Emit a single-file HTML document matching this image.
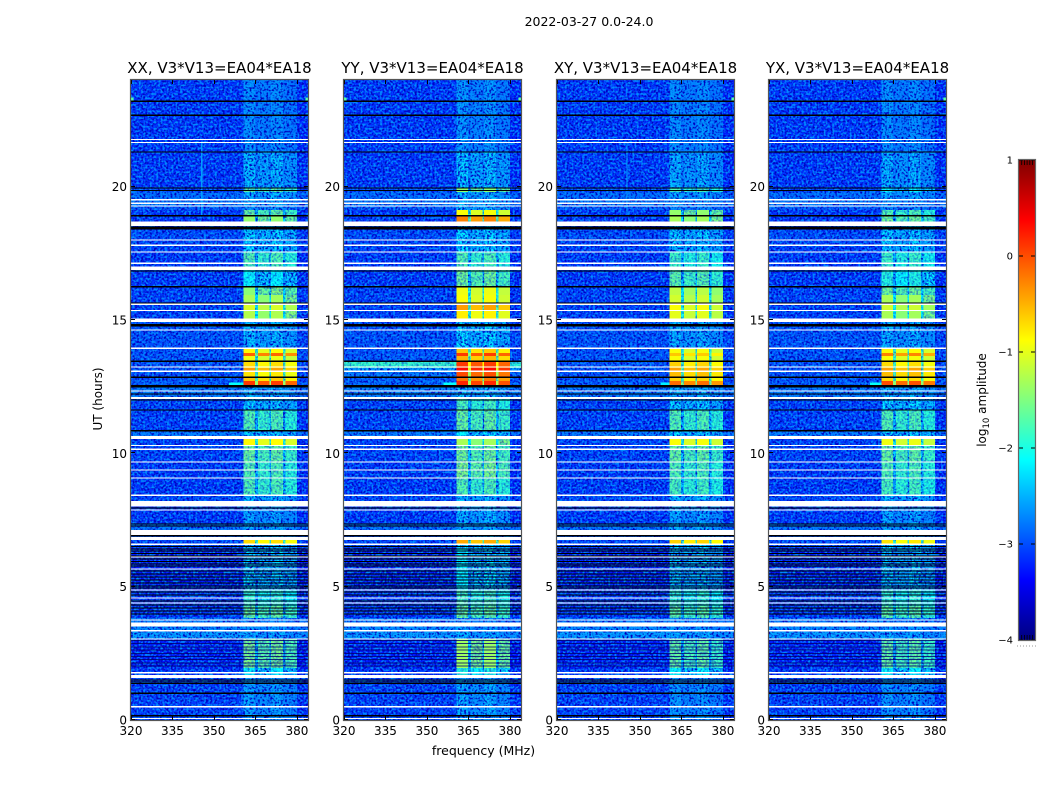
<!DOCTYPE html>
<html lang="en">
<head>
<meta charset="utf-8">
<title>2022-03-27 dynamic spectra</title>
<style>
html,body{margin:0;padding:0;background:#fff;overflow:hidden}
svg{display:block}
text{font-family:"DejaVu Sans","Liberation Sans",sans-serif;fill:#000}
.cell{shape-rendering:crispEdges}
</style>
</head>
<body>
<svg id="figure" xmlns="http://www.w3.org/2000/svg" width="1050" height="800" viewBox="0 0 1050 800">
<defs>
<filter id="grain" filterUnits="objectBoundingBox" x="0" y="0" width="1" height="1" color-interpolation-filters="sRGB">
<feTurbulence type="fractalNoise" baseFrequency="0.48" numOctaves="1" seed="3" result="n1"/>
<feColorMatrix in="n1" type="matrix" values="0 0 0 0 0  0 0 0 0 0  0 0 0 0 0.75  4.5 0 0 0 -2.1" result="dark"/>
<feTurbulence type="fractalNoise" baseFrequency="0.46" numOctaves="1" seed="11" result="n2"/>
<feColorMatrix in="n2" type="matrix" values="0 0 0 0 0  0 0 0 0 0.55  0 0 0 0 1  4 0 0 0 -1.85" result="light"/>
<feMerge><feMergeNode in="dark"/><feMergeNode in="light"/></feMerge>
</filter>
<linearGradient id="jet-gradient" x1="0" y1="1" x2="0" y2="0"></linearGradient>
</defs>
<text x="589" y="26" text-anchor="middle" font-size="12.5">2022-03-27 0.0-24.0</text>
<text x="483.5" y="755" text-anchor="middle" font-size="12.5">frequency (MHz)</text>
<text x="0" y="0" transform="translate(102,399) rotate(-90)" text-anchor="middle" font-size="12">UT (hours)</text>
<text x="0" y="0" transform="translate(986,400) rotate(-90)" text-anchor="middle" font-size="12">log<tspan font-size="8.5" dy="3">10</tspan><tspan dy="-3"> amplitude</tspan></text>
</svg>
<script>
// ---- Chart data ----
const panelTitles = ['XX, V3*V13=EA04*EA18', 'YY, V3*V13=EA04*EA18', 'XY, V3*V13=EA04*EA18', 'YX, V3*V13=EA04*EA18'];
const freqTicks = [320, 335, 350, 365, 380];
const hourTicks = [0, 5, 10, 15, 20];
const colorTicks = [1, 0, -1, -2, -3, -4];

// time-segment boundaries in UT hours, top to bottom
const segmentEdges = [24, 21.3, 19.95, 19.8, 19.54, 19.28, 19.13, 18.9, 18.7, 18.38, 18.0, 17.55, 16.88, 16.25, 15.94, 15.64, 15.34, 15.04, 13.91, 13.76, 13.65, 13.46, 13.2, 13.05, 12.86, 12.71, 12.52, 12.04, 11.63, 10.84, 10.65, 10.31, 9.68, 9.08, 8.44, 8.21, 7.35, 6.94, 6.75, 6.59, 6.45, 4.88, 4.28, 3.83, 3.5, 3.3, 3.04, 1.95, 1.58, 0];

// frequency bins (MHz) and what each holds: 'bg', 'edge', 'gap' or a sub-band index
const freqEdges = [320, 360.7, 364.9, 365.9, 370, 370.7, 375, 375.8, 380, 384];
const binKinds = ['bg', 0, 'gap', 1, 'gap', 2, 'gap', 3, 'edge'];
const subbandOffsets = [0.1, -0.05, 0.08, -0.12];

// log10 amplitude of the quiet background per segment
const backgroundCross = [-3.15, -3.15, -3.05, -2.85, -2.75, -2.95, -3.15, -3.15, -3.15, -3.05, -3.1, -3.15, -3.15, -3.1, -3.1, -3.1, -3.1, -3.0, -3.0, -3.0, -3.0, -3.0, -3.0, -3.0, -3.0, -2.95, -2.75, -3.1, -3.1, -2.75, -3.1, -3.1, -3.15, -3.15, -3.05, -3.15, -2.8, -2.95, -3.05, -3.05, -3.25, -3.15, -3.15, -2.75, -2.65, -2.55, -3.25, -3.15, -3.1];
const backgroundYY = [-3.15, -3.15, -3.05, -2.85, -2.75, -2.95, -3.15, -3.15, -3.15, -3.05, -3.1, -3.15, -3.15, -3.1, -3.1, -3.1, -3.1, -3.0, -3.0, -3.0, -2.95, -1.85, -2.5, -2.75, -2.95, -2.85, -2.7, -3.1, -3.1, -2.75, -3.1, -3.1, -3.15, -3.15, -3.05, -3.15, -2.8, -2.95, -3.05, -3.05, -3.25, -3.15, -3.15, -2.75, -2.65, -2.55, -3.25, -3.15, -3.1];

// log10 amplitude of the occupied sub-bands per segment
const bandXX = [-2.7, -2.45, -1.75, -2.45, -2.55, -2.65, -1.7, -1.5, -2.3, -2.3, -2.3, -1.8, -2.2, -1.55, -1.4, -1.15, -1.35, -2.45, -0.95, -0.2, -1.05, -0.8, -0.5, -0.85, -0.7, 0.0, -2.5, -2.35, -1.8, -2.3, -0.95, -1.7, -1.8, -1.8, -2.45, -2.55, -2.55, -2.45, -0.8, -2.3, -2.35, -2.0, -1.7, -2.75, -2.65, -2.55, -1.6, -2.2, -2.6];
const bandYY = [-2.65, -2.4, -1.5, -2.45, -2.45, -2.45, -1.0, -0.35, -2.3, -2.3, -2.3, -1.8, -1.65, -1.05, -1.0, -0.5, -0.9, -2.3, -0.7, 0.0, -0.6, -0.0, 0.25, -0.1, -0.3, 0.1, -2.45, -1.85, -1.7, -2.25, -1.4, -1.65, -1.6, -1.8, -2.45, -2.45, -2.55, -2.45, -0.55, -2.3, -2.25, -1.9, -1.7, -2.75, -2.65, -2.55, -1.45, -2.05, -2.55];
const bandXY = [-2.7, -2.5, -1.85, -2.55, -2.65, -2.75, -1.5, -1.4, -2.3, -2.35, -2.35, -1.9, -1.75, -1.3, -1.2, -1.0, -1.1, -2.5, -1.0, -0.7, -1.0, -0.75, -0.5, -0.65, -0.75, -0.25, -2.5, -2.35, -1.8, -2.3, -1.0, -1.7, -1.8, -1.85, -2.45, -2.55, -2.55, -2.45, -0.75, -2.3, -2.4, -2.0, -1.75, -2.75, -2.65, -2.55, -1.7, -2.2, -2.65];
const bandYX = [-2.7, -2.5, -2.2, -2.55, -2.65, -2.75, -1.8, -1.65, -2.3, -2.35, -2.35, -1.9, -2.05, -1.65, -1.4, -1.2, -1.4, -2.5, -0.95, -0.35, -1.0, -0.8, -0.5, -0.65, -0.8, -0.1, -2.5, -2.3, -1.8, -2.3, -1.05, -1.7, -1.8, -1.85, -2.45, -2.55, -2.55, -2.45, -0.85, -2.3, -2.4, -2.0, -1.75, -2.75, -2.65, -2.55, -1.7, -2.2, -2.65];
const panelBands = [bandXX, bandYY, bandXY, bandYX];
const panelBackgrounds = [backgroundCross, backgroundYY, backgroundCross, backgroundCross];

// localised features: panel, f0, f1, h0, h1, level
const rfiFeatures = [
  [0, 320, 320.9, 23.2, 23.35, -1.7], [0, 383.1, 384, 23.2, 23.35, -1.7],
  [1, 320, 320.9, 23.2, 23.35, -1.7], [1, 383.1, 384, 23.2, 23.35, -1.7],
  [2, 383.1, 384, 23.2, 23.35, -1.7], [3, 383.1, 384, 23.2, 23.35, -1.7],
  [0, 345.4, 345.8, 18.9, 21.7, -2.6], [2, 345.1, 345.5, 18.9, 21.7, -2.6],
  [0, 355.5, 360.7, 12.52, 12.65, -2.1], [1, 356, 360.7, 12.52, 12.65, -2.1],
  [3, 356.5, 360.7, 12.52, 12.65, -2.1],
  [2, 357.5, 360.7, 12.52, 12.65, -2.2]
];

// flagged data: white lines (centres), white blocks (start, end), black lines (centres)
const whiteLines = [21.77, 21.66, 19.51, 19.38, 19.28, 18.0, 17.8, 17.55, 17.13, 15.59, 15.36, 14.63, 13.94, 13.24, 13.08, 12.34, 10.29, 10.15, 9.67, 9.37, 9.07, 8.43, 7.88, 6.59, 6.11, 5.66, 4.88, 4.58, 4.39, 3.75, 3.35, 3.04, 1.77, 0.5, 0.06];
const whiteBlocks = [[18.52, 18.7], [16.88, 17.0], [14.93, 15.05], [12.04, 12.12], [10.54, 10.65], [8.01, 8.21], [6.94, 7.13], [6.75, 6.86], [3.5, 3.66], [1.58, 1.69]];
const blackLines = [23.2, 22.68, 21.3, 19.95, 19.86, 18.91, 18.52, 18.47, 18.42, 16.84, 16.25, 15.64, 14.82, 14.77, 13.45, 12.85, 12.54, 12.5, 12.22, 12.0, 11.63, 10.85, 7.95, 7.35, 7.28, 6.91, 6.51, 6.41, 6.34, 6.24, 6.15, 6.04, 5.94, 5.85, 5.78, 5.59, 5.48, 5.36, 5.25, 5.14, 5.03, 4.95, 4.8, 4.69, 4.46, 4.31, 4.2, 4.09, 3.98, 1.5, 1.42, 1.37, 1.0, 0.16];
const dimLines = [2.98, 2.86, 2.74, 2.62, 2.5, 2.38, 2.26, 2.14, 2.02];

// ---- Axis functions ----
const panelLefts = [131, 344, 557, 769];
const panelWidth = 177, plotTop = 80, plotBottom = 720;
const fMin = 320, fMax = 384, hMin = 0, hMax = 24;
const xScale = (p, f) => panelLefts[p] + (f - fMin) / (fMax - fMin) * panelWidth;
const yScale = h => plotBottom - (h - hMin) / (hMax - hMin) * (plotBottom - plotTop);
const cbLeft = 1019, cbWidth = 16, cbTop = 160, cbBottom = 640;
const cbScale = v => cbBottom - (v + 4) / 5 * (cbBottom - cbTop);

function clamp01(v) { return Math.max(0, Math.min(1, v)); }
function jet(level) {
  const t = clamp01((level + 4) / 5);
  const r = clamp01(Math.min(4 * t - 1.5, -4 * t + 4.5));
  const g = clamp01(Math.min(4 * t - 0.5, -4 * t + 3.5));
  const b = clamp01(Math.min(4 * t + 0.5, -4 * t + 2.5));
  return 'rgb(' + Math.round(r * 255) + ',' + Math.round(g * 255) + ',' + Math.round(b * 255) + ')';
}

const NS = 'http://www.w3.org/2000/svg';
const figure = document.getElementById('figure');
function make(tag, parent, props) {
  const node = document.createElementNS(NS, tag);
  for (const k in props) node.setAttribute(k, props[k]);
  parent.appendChild(node);
  return node;
}

// ---- Heatmap panels ----
panelTitles.forEach(function (title, p) {
  const left = panelLefts[p];
  const panel = make('g', figure, {});
  
  

  const bands = panelBands[p], backs = panelBackgrounds[p];
  const under = make('g', panel, {});
  
  

  function cell(layer, f0, f1, h0, h1, level) {
    const x0 = xScale(p, f0), x1 = xScale(p, f1), yA = yScale(h1), yB = yScale(h0);
    const c = make('rect', layer, { x: x0, y: yA, width: x1 - x0, height: yB - yA, fill: jet(level), 'class': 'cell' });
    
    
  }

  const mid = [], strong = [];
  for (let s = 0; s < bands.length; s++) {
    const h1 = segmentEdges[s], h0 = segmentEdges[s + 1];
    for (let b = 0; b < binKinds.length; b++) {
      const kind = binKinds[b];
      let level;
      if (kind === 'bg') level = backs[s];
      else if (kind === 'edge') level = backs[s] - 0.08;
      else if (kind === 'gap') level = (bands[s] + backs[s]) / 2 + 0.1;
      else level = bands[s] + subbandOffsets[kind];
      if (level >= -1.45) strong.push([freqEdges[b], freqEdges[b + 1], h0, h1, level]);
      else if (level >= -2.15) mid.push([freqEdges[b], freqEdges[b + 1], h0, h1, level]);
      else cell(under, freqEdges[b], freqEdges[b + 1], h0, h1, level);
    }
  }

  const grainRect = make('rect', panel, { x: left, y: plotTop, width: panelWidth, height: plotBottom - plotTop, filter: 'url(#grain)' });
  
  

  const midLayer = make('g', panel, {});
  
  
  mid.forEach(function (r) { cell(midLayer, r[0], r[1], r[2], r[3], r[4]); });

  const softGrain = make('rect', panel, { x: left, y: plotTop, width: panelWidth, height: plotBottom - plotTop, filter: 'url(#grain)', opacity: 0.5 });
  
  

  const over = make('g', panel, {});
  
  
  strong.forEach(function (r) { cell(over, r[0], r[1], r[2], r[3], r[4]); });
  rfiFeatures.filter(function (r) { return r[0] === p; }).forEach(function (r) { cell(over, r[1], r[2], r[3], r[4], r[5]); });

  dimLines.forEach(function (h) {
    const l = make('rect', panel, { x: left, y: yScale(h) - 0.5, width: panelWidth, height: 1, fill: '#00006a', opacity: 0.8, 'class': 'cell' });
    
    
  });
  blackLines.forEach(function (h) {
    const l = make('rect', panel, { x: left, y: yScale(h) - 0.6, width: panelWidth, height: 1.2, fill: '#000', 'class': 'cell' });
    
    
  });
  whiteLines.forEach(function (h) {
    const l = make('rect', panel, { x: left, y: yScale(h) - 0.6, width: panelWidth, height: 1.2, fill: '#fff', 'class': 'cell' });
    
    
  });
  whiteBlocks.forEach(function (b) {
    const l = make('rect', panel, { x: left, y: yScale(b[1]), width: panelWidth, height: yScale(b[0]) - yScale(b[1]), fill: '#fff', 'class': 'cell' });
    
    
  });

  // ticks and labels
  freqTicks.forEach(function (f) {
    const x = Math.round(xScale(p, f)) + 0.5;
    const t1 = make('line', panel, { x1: x, x2: x, y1: plotBottom, y2: plotBottom - 4, stroke: '#000', 'stroke-width': 1 });
    
    
    const t2 = make('line', panel, { x1: x, x2: x, y1: plotTop, y2: plotTop + 4, stroke: '#000', 'stroke-width': 1 });
    
    
    const lab = make('text', panel, { x: xScale(p, f), y: 735, 'text-anchor': 'middle', 'font-size': 12 });
    lab.textContent = f;
    
    
  });
  hourTicks.forEach(function (h) {
    const y = Math.round(yScale(h)) - 0.5;
    const t1 = make('line', panel, { x1: left, x2: left + 4, y1: y, y2: y, stroke: '#000', 'stroke-width': 1 });
    
    
    const t2 = make('line', panel, { x1: left + panelWidth, x2: left + panelWidth - 4, y1: y, y2: y, stroke: '#000', 'stroke-width': 1 });
    
    
    const lab = make('text', panel, { x: left - 4, y: yScale(h) + 4.5, 'text-anchor': 'end', 'font-size': 12 });
    lab.textContent = h;
    
    
  });

  const frame = make('rect', panel, { x: left - 0.5, y: plotTop - 0.5, width: panelWidth + 1, height: plotBottom - plotTop + 1, fill: 'none', stroke: '#555', 'stroke-width': 1.2 });
  
  

  const head = make('text', panel, { x: left + panelWidth / 2, y: 73, 'text-anchor': 'middle', 'font-size': 15 });
  head.textContent = title;
  
  
});

// ---- Colorbar ----
const colorbar = make('g', figure, {});


const gradient = document.getElementById('jet-gradient');
for (let i = 0; i <= 32; i++) {
  make('stop', gradient, { offset: i / 32, 'stop-color': jet(-4 + 5 * i / 32) });
}
const cbRect = make('rect', colorbar, { x: cbLeft, y: cbTop, width: cbWidth, height: cbBottom - cbTop, fill: 'url(#jet-gradient)' });


colorTicks.forEach(function (v) {
  const y = cbScale(v);
  const t1 = make('line', colorbar, { x1: cbLeft, x2: cbLeft + 4, y1: y, y2: y, stroke: '#000' });
  
  
  const t2 = make('line', colorbar, { x1: cbLeft + cbWidth, x2: cbLeft + cbWidth - 4, y1: y, y2: y, stroke: '#000' });
  
  
  const lab = make('text', colorbar, { x: cbLeft - 6, y: y + 3.5, 'text-anchor': 'end', 'font-size': 10 });
  lab.textContent = v < 0 ? '\u2212' + Math.abs(v) : String(v);
  
  
});
for (let i = 1; i <= 5; i++) {
  const x = cbLeft + i * 2.7;
  const t1 = make('line', colorbar, { x1: x, x2: x, y1: cbTop, y2: cbTop + 5, stroke: '#000', 'stroke-width': 0.8 });
  
  
  const t2 = make('line', colorbar, { x1: x, x2: x, y1: cbBottom, y2: cbBottom - 5, stroke: '#000', 'stroke-width': 0.8 });
  
  
}
for (let i = 0; i <= 6; i++) {
  const d = make('rect', colorbar, { x: cbLeft - 2 + i * 3, y: 645.5, width: 1, height: 1, fill: '#999', 'class': 'cell' });
  
  
}
const cbFrame = make('rect', colorbar, { x: cbLeft - 0.5, y: cbTop - 0.5, width: cbWidth + 1, height: cbBottom - cbTop + 1, fill: 'none', stroke: '#666', 'stroke-width': 1.2 });


</script>
</body>
</html>
